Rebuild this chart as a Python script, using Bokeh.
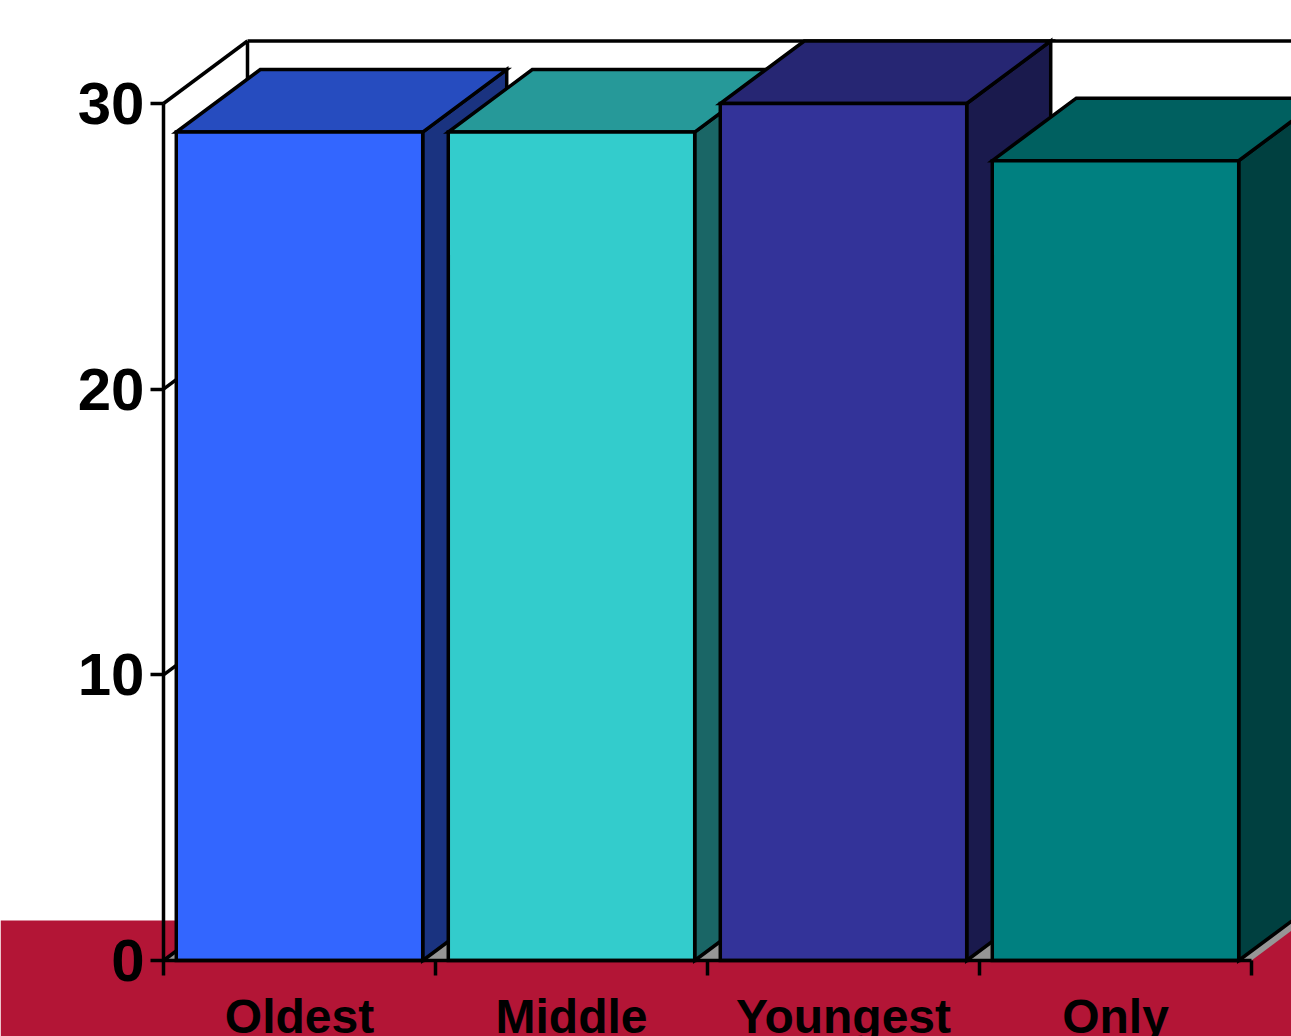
from bokeh.plotting import figure
from bokeh.models import Range1d, LinearAxis, FixedTicker, BoxAnnotation, ColumnDataSource
from bokeh.embed import file_html
from bokeh.resources import INLINE

# ---- data ----
categories = ["Oldest", "Middle", "Youngest", "Only"]
values = [29, 29, 30, 28]
front_colors = ["#3366FF", "#33CCCC", "#333399", "#008080"]
top_colors = ["#264CBF", "#269999", "#262673", "#006060"]
side_colors = ["#1A3380", "#1A6666", "#1A1A4D", "#004040"]
y_ticks = [0, 10, 20, 30]
y_max = 30

# ---- layout constants ----
W, H = 1291, 1036
PX_PER_CAT = 272.0
PX_PER_UNIT = 857.0 / 30
AX_X = 163          # y-axis position in px from frame left
AX_Y = 960          # x-axis position in px from frame top
DX = 84.0 / PX_PER_CAT        # depth offset in x data units
DY = 62.5 / PX_PER_UNIT       # depth offset in y data units
BAR_W = 0.906
BAND_TOP = 40.0 / PX_PER_UNIT  # red band top (data units)
LW = 3.5
n = len(categories)

p = figure(width=W, height=H, output_backend="svg", toolbar_location=None,
           x_range=Range1d(-AX_X / PX_PER_CAT, (W - AX_X) / PX_PER_CAT),
           y_range=Range1d(-(H - AX_Y) / PX_PER_UNIT, AX_Y / PX_PER_UNIT),
           x_axis_type=None, y_axis_type=None, min_border=0)
p.outline_line_color = None
p.background_fill_color = "white"
p.border_fill_color = "white"

# red band
p.add_layout(BoxAnnotation(top=BAND_TOP, fill_color="#B31536", fill_alpha=1.0,
                           line_color=None, level="underlay"))

# floor
p.patch([0, n, n + DX, DX], [0, 0, DY, DY], fill_color="#969696", line_color=None)

# walls
wx = [[0, DX], [DX, n + DX], [DX, DX]]
wy = [[y_max, y_max + DY], [y_max + DY, y_max + DY], [DY, y_max + DY]]
for t in y_ticks[:-1]:
    wx.append([0, DX])
    wy.append([t, t + DY])
p.multi_line(wx, wy, line_color="black", line_width=LW)

# bars
xs, ys, fills = [], [], []
for i, v in enumerate(values):
    x0 = i + (1 - BAR_W) / 2
    x1 = x0 + BAR_W
    xs.append([x1, x1 + DX, x1 + DX, x1]); ys.append([0, DY, v + DY, v]); fills.append(side_colors[i])
    xs.append([x0, x1, x1 + DX, x0 + DX]); ys.append([v, v, v + DY, v + DY]); fills.append(top_colors[i])
    xs.append([x0, x1, x1, x0]); ys.append([0, 0, v, v]); fills.append(front_colors[i])
src = ColumnDataSource(dict(xs=xs, ys=ys, fill=fills))
p.patches("xs", "ys", source=src, fill_color="fill", line_color="black",
          line_width=LW, line_join="miter")

# axes
yaxis = LinearAxis(fixed_location=0, bounds=(0, y_max),
                   ticker=FixedTicker(ticks=y_ticks),
                   major_tick_out=13, major_tick_in=0, minor_tick_out=0, minor_tick_in=0,
                   axis_line_width=LW, major_tick_line_width=LW,
                   major_label_text_font="Liberation Sans",
                   major_label_text_font_style="bold",
                   major_label_text_font_size="60px",
                   major_label_text_color="black",
                   major_label_standoff=6)
p.add_layout(yaxis, "left")

centers = [i + 0.5 for i in range(n)]
xaxis = LinearAxis(fixed_location=0, bounds=(0, n),
                   ticker=FixedTicker(ticks=centers, minor_ticks=list(range(n + 1))),
                   major_tick_out=0, major_tick_in=0, major_tick_line_color=None,
                   minor_tick_out=15, minor_tick_in=0, minor_tick_line_width=LW,
                   minor_tick_line_color="black",
                   axis_line_width=LW,
                   major_label_overrides={c: lab for c, lab in zip(centers, categories)},
                   major_label_text_font="Liberation Sans",
                   major_label_text_font_style="bold",
                   major_label_text_font_size="48px",
                   major_label_text_color="black",
                   major_label_standoff=14)
p.add_layout(xaxis, "below")

open("out.html", "w").write(file_html(p, INLINE))
